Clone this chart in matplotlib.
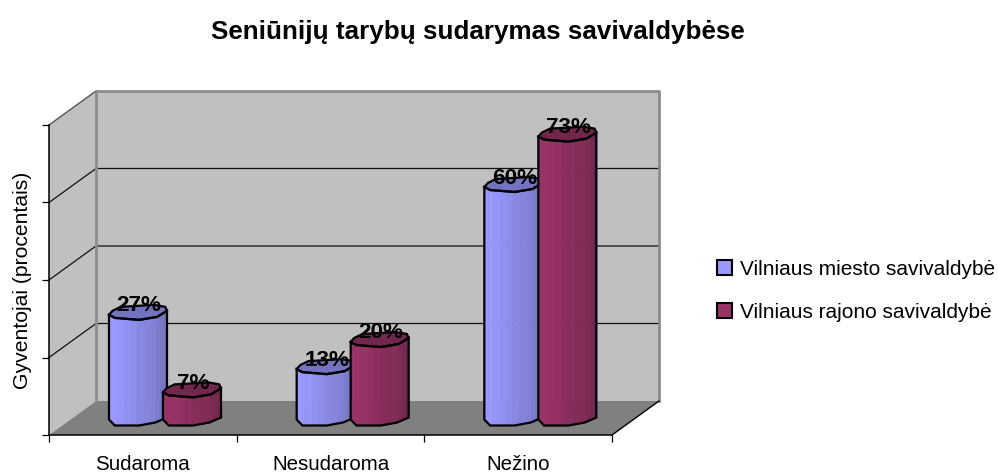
import numpy as np
from matplotlib import pyplot as plt
from matplotlib.patches import Patch, Polygon
from matplotlib.colors import to_rgb

title = 'Seniūnijų tarybų sudarymas savivaldybėse'
y_title = 'Gyventojai (procentais)'
categories = ['Sudaroma', 'Nesudaroma', 'Nežino']
series_names = ['Vilniaus miesto savivaldybė', 'Vilniaus rajono savivaldybė']
miesto = [27, 13, 60]
rajono = [7, 20, 73]
y_ticks = [0, 20, 40, 60, 80]

BLUE = '#9999FF'
RED = '#993366'
PX_X = 563 / 3    # pixels per category
PX_Y = 310 / 80   # pixels per percent
DX = 47 / PX_X    # 3d depth
DY = 34 / PX_Y

plt.rcParams['font.family'] = ['Liberation Sans', 'DejaVu Sans']

fig = plt.figure(figsize=(9.98, 4.73), dpi=100)
ax = fig.add_axes([49 / 998, 38 / 473, 563 / 998, 310 / 473])
ax.set_xlim(0, 3)
ax.set_ylim(0, 80)
ax.patch.set_visible(False)
for s in ['top', 'right']:
    ax.spines[s].set_visible(False)
for s in ['left', 'bottom']:
    ax.spines[s].set_linewidth(1.1)

ax.set_xticks([0, 1, 2, 3])
ax.set_xticklabels([])
ax.set_xticks([0.5, 1.5, 2.5], labels=categories, minor=True)
ax.tick_params(axis='x', which='major', length=5, width=0.9)
ax.tick_params(axis='x', which='minor', length=0, labelsize=14.8, pad=14.5)
ax.set_yticks(y_ticks)
ax.set_yticklabels([])
ax.tick_params(axis='y', length=5, width=0.9)
ax.set_ylabel(y_title, fontsize=15.2, labelpad=4)


def wall(points, color, zorder=1):
    ax.add_patch(Polygon(points, closed=True, fc=color, ec='none', clip_on=False, zorder=zorder))


# walls and floor
wall([(0, 0), (DX, DY), (DX, 80 + DY), (0, 80)], '#C0C0C0')
wall([(DX, DY), (3 + DX, DY), (3 + DX, 80 + DY), (DX, 80 + DY)], '#C0C0C0')
wall([(0, 0), (3, 0), (3 + DX, DY), (DX, DY)], '#808080')

for t in y_ticks[1:-1]:
    ax.plot([0, DX, 3 + DX], [t, t + DY, t + DY], color='#111111', lw=0.9, clip_on=False, zorder=1.5)
ax.plot([0, DX], [80, 80 + DY], color='#555555', lw=1.0, clip_on=False, zorder=1.5)
ax.plot([DX, DX, 3 + DX, 3 + DX], [DY, 80 + DY, 80 + DY, DY], color='#8C8C8C', lw=2.0, clip_on=False, zorder=1.6)
ax.plot([3, 3 + DX], [0, DY], color='black', lw=1.0, clip_on=False, zorder=1.7)

# outline of the faceted cylinders, (width share, pixels above left corner)
top_front = np.array([(0, 0), (0.1, -3), (0.52, -5), (0.83, -2), (1, 4)])
top_back = np.array([(1, 4), (0.97, 8), (0.78, 10), (0.2, 8), (0.06, 4), (0, 0)])
bottom = np.array([(0, 0), (0.1, -6), (0.52, -6), (0.8, -3), (1, 2)])
band_edges = [0, 0.13, 0.26, 0.37, 0.47, 0.6, 0.73, 0.8, 0.87, 0.93, 1]
band_shade = [1.0, 0.98, 0.95, 0.92, 0.89, 0.86, 0.84, 0.81, 0.78, 0.75]


def draw_bar(x0, value, color, zorder):
    w = 58 / PX_X
    base = 4
    rgb = np.array(to_rgb(color))
    top_y = base + value
    # side bands
    for i in range(len(band_shade)):
        u = np.linspace(band_edges[i], band_edges[i + 1], 6)
        y_hi = top_y + np.interp(u, top_front[:, 0], top_front[:, 1]) / PX_Y
        y_lo = base + np.interp(u, bottom[:, 0], bottom[:, 1]) / PX_Y
        ax.fill_between(x0 + u * w, y_lo, y_hi, color=rgb * band_shade[i], lw=0.3, zorder=zorder, clip_on=False)
    # outline
    u = np.concatenate([top_front[:, 0], bottom[::-1, 0]])
    v = np.concatenate([top_y + top_front[:, 1] / PX_Y, base + bottom[::-1, 1] / PX_Y])
    ax.add_patch(Polygon(np.column_stack([x0 + u * w, v]), closed=True, fc='none', ec='black', lw=1.6,
                         clip_on=False, zorder=zorder + 0.2))
    # top cap
    cap = np.vstack([top_front, top_back])
    ax.add_patch(Polygon(np.column_stack([x0 + cap[:, 0] * w, top_y + cap[:, 1] / PX_Y]), closed=True,
                         fc=rgb * 0.75, ec='black', lw=1.6, clip_on=False, zorder=zorder + 0.1))
    ax.text(x0 + 30 / PX_X, top_y + 9 / PX_Y, f'{value}%', ha='center', va='center', fontsize=16.2,
            fontweight='bold', color='black', zorder=20, clip_on=False)


for i in range(len(categories)):
    draw_bar(i + 60 / PX_X, miesto[i], BLUE, 3 + i * 2)
    draw_bar(i + 114 / PX_X, rajono[i], RED, 4 + i * 2)

fig.text(478 / 998, 1 - 32 / 473, title, ha='center', va='center', fontsize=18.7, fontweight='bold')

handles = [Patch(fc=BLUE, ec='black', lw=1.5), Patch(fc=RED, ec='black', lw=1.5)]
fig.legend(handles, series_names, loc='center left', bbox_to_anchor=(717 / 998, 1 - 291 / 473), frameon=False,
           fontsize=15.0, handlelength=0.72, handleheight=0.72, handletextpad=0.4, labelspacing=1.15,
           borderpad=0, borderaxespad=0)

plt.savefig('out.png', dpi=100)
